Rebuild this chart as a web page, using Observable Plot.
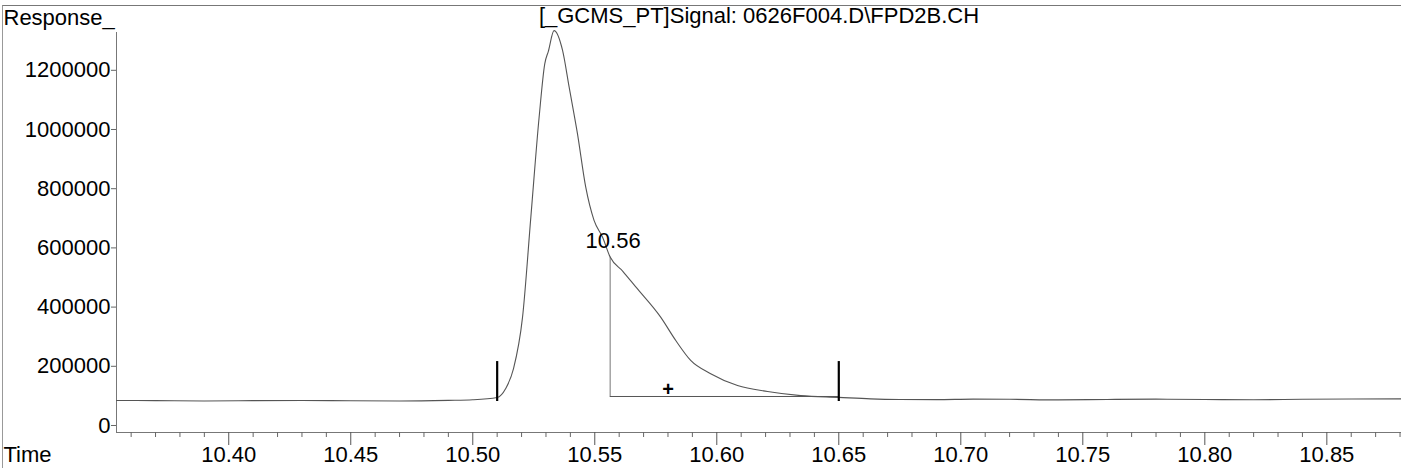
<!DOCTYPE html>
<html>
<head>
<meta charset="utf-8">
<script src="https://cdn.jsdelivr.net/npm/d3@7"></script>
<script src="https://cdn.jsdelivr.net/npm/@observablehq/plot@0.6"></script>
<style>
  html, body { margin: 0; padding: 0; background: #fff; }
  #wrap { position: relative; width: 1401px; height: 468px; overflow: hidden; }
  #border { position: absolute; left: 2px; top: 5px; width: 1399px; height: 463px;
            border-top: 1px solid #777; border-left: 1px solid #999; pointer-events: none; box-sizing: border-box; }
  svg { font-family: "Liberation Sans", Arial, sans-serif; }
</style>
</head>
<body>
<div id="wrap"><div id="border"></div></div>
<script>
// ---- data ----
const times = [10.354, 10.370, 10.390, 10.410, 10.430, 10.450, 10.470, 10.490, 10.500, 10.510,
  10.5135, 10.5167, 10.5204, 10.5238, 10.5272, 10.5295, 10.531, 10.5333, 10.5368, 10.5395,
  10.5429, 10.5463, 10.5497, 10.5532, 10.5563, 10.5615, 10.5668, 10.577, 10.5832, 10.5893, 10.5975,
  10.6085, 10.6208, 10.6344, 10.650, 10.663, 10.675, 10.690, 10.705, 10.720, 10.740,
  10.760, 10.780, 10.800, 10.820, 10.840, 10.860, 10.881];
const responses = [84500, 84000, 83000, 84000, 84500, 83500, 83000, 85000, 87000, 94500,
  125000, 192000, 366000, 704000, 1042000, 1222000, 1265000, 1334000, 1267000, 1143000,
  986000, 805000, 693000, 636000, 569000, 521000, 468000, 366000, 287000, 220000, 175000,
  135000, 115000, 101000, 95000, 90000, 88000, 87500, 89000, 88500, 86500,
  88000, 89000, 88000, 87000, 88500, 89500, 90000];

const xDomain = [10.354, 10.8806];
const yDomain = [-23650, 1327700];

const xMajorTicks = [10.40, 10.45, 10.50, 10.55, 10.60, 10.65, 10.70, 10.75, 10.80, 10.85];
const xMinorTicks = [10.36, 10.37, 10.38, 10.39, 10.41, 10.42, 10.43, 10.44, 10.46, 10.47, 10.48, 10.49,
  10.51, 10.52, 10.53, 10.54, 10.56, 10.57, 10.58, 10.59, 10.61, 10.62, 10.63, 10.64,
  10.66, 10.67, 10.68, 10.69, 10.71, 10.72, 10.73, 10.74, 10.76, 10.77, 10.78, 10.79,
  10.81, 10.82, 10.83, 10.84, 10.86, 10.87, 10.88];
const yTicks = [0, 200000, 400000, 600000, 800000, 1000000, 1200000];

// integration events
const markerTimes = [10.51, 10.65];
const markerLow = 81000;
const markerHigh = 216000;
const dropTime = 10.5563;
const dropTop = 569000;
const baseStart = 10.5563;
const baseEnd = 10.65;
const baseValue = 98000;
const peakLabel = "10.56";
const plusTime = 10.58;
const plusValue = 121600;

const titleText = "[_GCMS_PT]Signal: 0626F004.D\\FPD2B.CH";
const yLabel = "Response_";
const xLabel = "Time";

const trace = times.map((t, i) => ({t, v: responses[i]}));

const FS = 22;

const chart = Plot.plot({
  width: 1401,
  height: 468,
  marginLeft: 116,
  marginRight: 0,
  marginTop: 32,
  marginBottom: 36,
  style: {fontFamily: "'Liberation Sans', Arial, sans-serif", fontSize: FS + "px", color: "#000", background: "transparent"},
  x: {domain: xDomain},
  y: {domain: yDomain},
  marks: [
    // axis lines
    Plot.ruleX([xDomain[0]], {stroke: "#777", strokeWidth: 1}),
    Plot.ruleY([yDomain[0]], {stroke: "#777", strokeWidth: 1}),
    Plot.axisY({ticks: yTicks, tickSize: 5, tickPadding: 1, tickFormat: d => String(d), fontSize: FS, stroke: "#666", fill: "#000", label: null}),
    Plot.axisX({ticks: xMajorTicks, tickSize: 13, tickPadding: 1, tickFormat: d => d.toFixed(2), fontSize: FS, stroke: "#555", fill: "#000", label: null}),
    Plot.axisX({ticks: xMinorTicks, tickSize: 5, tickFormat: () => "", stroke: "#666", label: null}),
    // baseline + drop line
    Plot.ruleX([dropTime], {y1: baseValue, y2: dropTop, stroke: "#777", strokeWidth: 1}),
    Plot.ruleY([baseValue], {x1: baseStart, x2: baseEnd, stroke: "#555", strokeWidth: 1}),
    // trace
    Plot.line(trace, {x: "t", y: "v", stroke: "#555", strokeWidth: 1.1, curve: "monotone-x"}),
    // peak start/end markers
    Plot.ruleX(markerTimes, {y1: markerLow, y2: markerHigh, stroke: "#000", strokeWidth: 2.2}),
    // centroid plus
    Plot.text([plusTime], {x: d => d, y: plusValue, text: () => "+", fontSize: 20, fontWeight: "bold", fill: "#000"}),
    // retention time label
    Plot.text([dropTime], {x: d => d, y: dropTop, text: () => peakLabel, dx: 3, dy: -16, fontSize: FS, fill: "#000"}),
    // title and axis names
    Plot.text([titleText], {frameAnchor: "top", text: d => d, dy: -25, lineAnchor: "top", fontSize: FS, fill: "#000"}),
    Plot.text([yLabel], {frameAnchor: "top-left", text: d => d, dx: -113, dy: -23, textAnchor: "start", lineAnchor: "top", fontSize: FS, fill: "#000"}),
    Plot.text([xLabel], {frameAnchor: "bottom-left", text: d => d, dx: -113, dy: 14, textAnchor: "start", lineAnchor: "top", fontSize: FS, fill: "#000"})
  ]
});
document.getElementById("wrap").prepend(chart);
</script>
</body>
</html>
